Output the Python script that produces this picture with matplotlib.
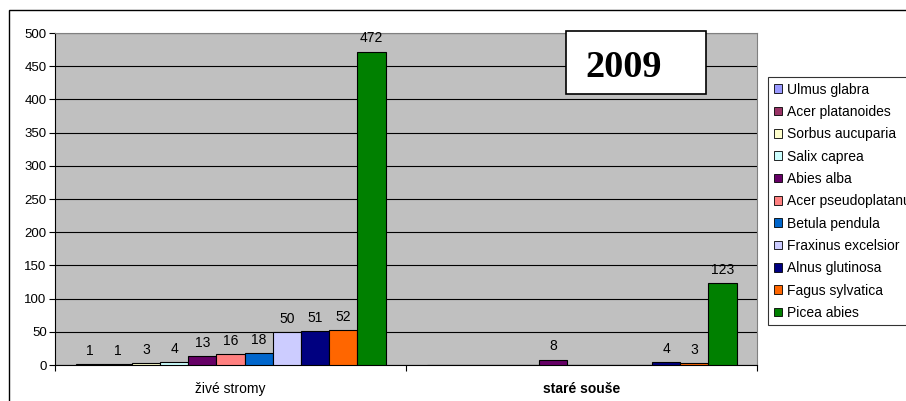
import matplotlib
matplotlib.use("Agg")
import matplotlib.pyplot as plt
from matplotlib.patches import Rectangle
import numpy as np

plt.rcParams['font.family'] = ['Liberation Sans', 'DejaVu Sans']

categories = ["živé stromy", "staré souše"]
species = ["Ulmus glabra", "Acer platanoides", "Sorbus aucuparia", "Salix caprea",
           "Abies alba", "Acer pseudoplatanus", "Betula pendula", "Fraxinus excelsior",
           "Alnus glutinosa", "Fagus sylvatica", "Picea abies"]
zive = [1, 1, 3, 4, 13, 16, 18, 50, 51, 52, 472]
souse = [0, 0, 0, 0, 8, 0, 0, 0, 4, 3, 123]
colors = ["#9999FF", "#993366", "#FFFFCC", "#CCFFFF", "#660066", "#FF8080",
          "#0066CC", "#CCCCFF", "#000080", "#FF6600", "#008000"]
yticks = [0, 50, 100, 150, 200, 250, 300, 350, 400, 450, 500]
title = "2009"

W, H = 906, 401
fig = plt.figure(figsize=(W / 100, H / 100), dpi=100)
fig.patch.set_facecolor("white")

# outer chart border
fig.patches.append(Rectangle((9 / W, -0.2), 1.5, 1.2 - 10 / H, transform=fig.transFigure,
                             fill=False, edgecolor="black", linewidth=1.0, zorder=0))

ax = fig.add_axes([55 / W, 1 - 365 / H, 702 / W, 332 / H])
ax.set_facecolor("#C0C0C0")

n = len(species)
bw = 310 / 351 / n
x = np.arange(len(categories))
for i, (sp, c) in enumerate(zip(species, colors)):
    vals = [zive[i], souse[i]]
    pos = x - 0.5 * bw * n + bw * (i + 0.5)
    ax.bar(pos, vals, width=bw, color=c, edgecolor="black", linewidth=0.8,
           label=sp, zorder=3)
    for p, v in zip(pos, vals):
        if v > 0:
            ax.annotate(str(v), (p, v), xytext=(0, 4.5), textcoords="offset points",
                        ha="center", va="bottom", fontsize=10, color="black")

ax.set_xlim(-0.5, 1.5)
ax.set_ylim(0, 500)
ax.set_yticks(yticks)
ax.tick_params(axis="y", labelsize=9.5, length=4, width=0.8, direction="out", pad=2)
ax.yaxis.grid(True, color="black", linewidth=0.8, zorder=1)
ax.set_axisbelow(True)

ax.set_xticks(x)
ax.set_xticklabels(categories)
ax.tick_params(axis="x", which="major", length=0, labelsize=10, pad=12)
ax.set_xticks([-0.5, 0.5, 1.5], minor=True)
ax.tick_params(axis="x", which="minor", length=4, width=0.8, direction="out")
ax.get_xticklabels()[1].set_fontweight("bold")

for s in ["left", "bottom"]:
    ax.spines[s].set_color("black")
    ax.spines[s].set_linewidth(0.8)
for s in ["top", "right"]:
    ax.spines[s].set_color("#808080")
    ax.spines[s].set_linewidth(0.8)

# title box
fig.patches.append(Rectangle((566 / W, 1 - 94 / H), 140 / W, 63 / H, transform=fig.transFigure,
                             facecolor="white", edgecolor="black", linewidth=1.2, zorder=5))
fig.text(624 / W, 1 - 77 / H, title, ha="center", va="baseline", fontsize=27.5,
         fontweight="bold", family=["Liberation Serif", "DejaVu Serif"], zorder=6)

leg = fig.legend(loc="upper left", bbox_to_anchor=(768 / W, 1 - 77 / H), fontsize=10,
                 frameon=True, fancybox=False, edgecolor="black", handlelength=0.6,
                 handleheight=0.6, handletextpad=0.35, labelspacing=0.6,
                 borderpad=0.4, borderaxespad=0)
leg.get_frame().set_linewidth(0.8)
for h in leg.legend_handles:
    h.set_edgecolor("black")
    h.set_linewidth(0.6)

fig.savefig("out.png", dpi=100)
